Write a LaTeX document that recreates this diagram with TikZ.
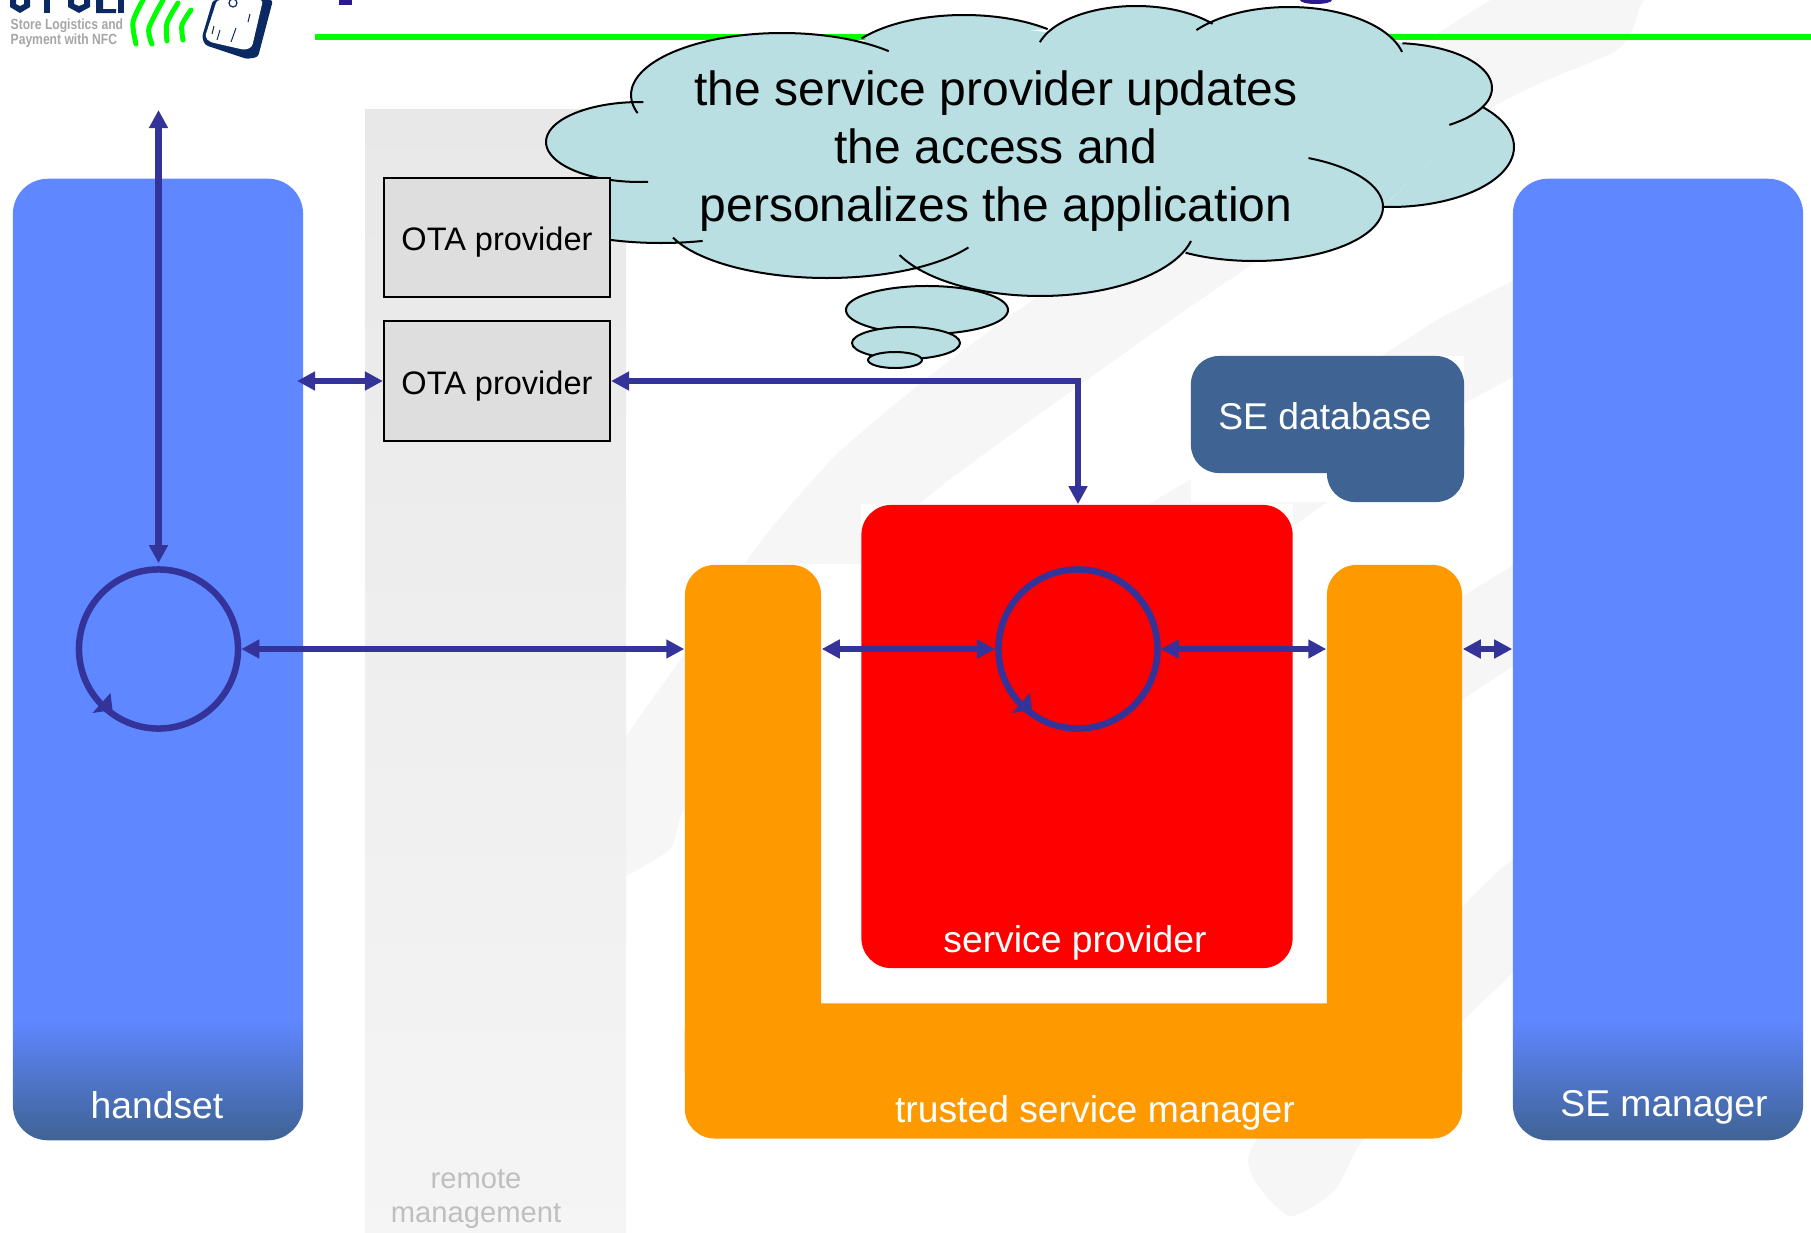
\documentclass[tikz,border=0pt]{standalone}
\usepackage{fontspec}
\setmainfont{Liberation Sans}
\newfontfamily\logofont[FakeStretch=0.82]{Liberation Sans}
\usetikzlibrary{arrows.meta,calc}

\definecolor{linkblue}{HTML}{333399}
\definecolor{panelblue}{HTML}{5F87FF}
\definecolor{dbblue}{HTML}{3F6393}
\definecolor{tsmorange}{HTML}{FF9900}
\definecolor{cloudteal}{HTML}{B9DFE3}
\definecolor{navy}{HTML}{0B2A63}
\definecolor{titleblue}{HTML}{2A1A8A}

\pgfdeclareverticalshading{panelshade}{100bp}{color(0bp)=(dbblue); color(25bp)=(dbblue); color(31.25bp)=(panelblue); color(100bp)=(panelblue)}

\tikzset{
	panel/.style={rounded corners=0.35cm, shading=panelshade, minimum width=2.9cm, minimum height=9.61cm},
	tsmpart/.style={rounded corners=0.3cm, fill=tsmorange},
	dbpart/.style={rounded corners=0.28cm, fill=dbblue},
	otabox/.style={draw=black, line width=0.02cm, fill=black!13, minimum width=2.26cm, minimum height=1.19cm, text height=7.54pt, text depth=0pt, font=\fontsize{9.25}{11}\selectfont},
	loopring/.style={circle, draw=linkblue, line width=0.065cm, minimum size=1.59cm},
	link/.style={draw=linkblue, line width=0.06cm, {Triangle[length=0.18cm,width=0.18cm]}-{Triangle[length=0.18cm,width=0.18cm]}},
	whitelabel/.style={text=white, font=\fontsize{10.6}{12}\selectfont},
	cloudline/.style={draw=black, line width=0.02cm},
	swoosh/.style={fill=black!3.5},
	greenarc/.style={draw=green, line width=0.05cm, line cap=round}
}

\newcommand{\cloudarc}[6]{plot[domain=#5:#6, samples=40, smooth, variable=\ang] ({#1+#2*cos(\ang)},{#3+#4*sin(\ang)})}
\newcommand{\cloudlobes}{
	\cloudarc{640}{94}{142}{40}{85}{272}
	\cloudarc{782}{151}{95}{62}{163}{315}
	\cloudarc{964}{125}{70}{55}{215}{312}
	\cloudarc{1136}{100}{56}{50}{196}{320}
	\cloudarc{1289}{116}{65}{58}{217}{347}
	\cloudarc{1392}{100}{88}{45}{276}{415}
	\cloudarc{1390}{124}{147}{60}{-41}{93}
	\cloudarc{1254}{129}{207}{54}{-65}{122}
	\cloudarc{1040}{155}{225}{71}{13}{155}
	\cloudarc{827}{165}{215}{63}{31}{159}
	\cloudarc{661}{128}{205}{38}{71}{170}
}

\begin{document}
\begin{tikzpicture}[x=0.01cm,y=-0.01cm]
	\useasboundingbox (0,0) rectangle (1811,1233);
	
	\fill[swoosh] plot[smooth cycle, tension=0.4] coordinates {(1517,-10) (1443,30) (1200,190) (1040,295) (936,371) (837,454) (758,545) (685,653) (600,780) (600,880) (627,875) (671,848) (685,807) (760,690) (860,565) (940,487) (1200,300) (1493,107) (1617,50) (1640,7) (1640,-10)};
	\fill[swoosh] (1530,272) -- (1440,318) -- (1190,480) -- (1145,506) -- (1295,525) -- (1463,404) -- (1530,368) -- cycle;
	\fill[swoosh] (1530,555) -- (1463,596) -- (1300,700) -- (1300,800) -- (1463,699) -- (1530,655) -- cycle;
	\fill[swoosh] plot[smooth cycle, tension=0.4] coordinates {(1530,852) (1463,906) (1263,1130) (1253,1177) (1290,1216) (1335,1190) (1363,1140) (1463,1021) (1530,950)};
	
	\fill[white] (685,564) rectangle (1462,1138);
	\fill[white] (861,504) rectangle (1293,968);
	\fill[white] (1191,356) rectangle (1464,502);
	
	\fill[green] (315,34) rectangle (1811,40);
	\fill[titleblue] (339,0) rectangle (352,4.5);
	\fill[titleblue] (1316,0) ellipse [x radius=0.16cm, y radius=0.04cm];
	
	\fill[navy] (10,0) -- (10,7) -- (20,13) -- (30,7) -- (30,0) -- (24,0) -- (24,4) -- (20,6) -- (16,4) -- (16,0) -- cycle;
	\fill[navy] (44,0) rectangle (50,13);
	\fill[navy] (68,0) -- (68,7) -- (79,13) -- (90,7) -- (90,0) -- (84,0) -- (84,4) -- (79,6) -- (74,4) -- (74,0) -- cycle;
	\fill[navy] (96,0) -- (96,13) -- (116,13) -- (116,9) -- (103,9) -- (103,0) -- cycle;
	\fill[navy] (118,0) rectangle (124,13);
	\node[text=black!35, anchor=north west, inner sep=0pt, align=left, font=\fontsize{4.2}{4.3}\logofont\bfseries] (logotext) at (10,18) {Store Logistics and\\Payment with NFC};
	\draw[greenarc] plot[smooth] coordinates {(136,44) (133,22) (143,0)};
	\draw[greenarc] plot[smooth] coordinates {(152,44) (149,28) (163,0)};
	\draw[greenarc] plot[smooth] coordinates {(167,41) (167,23) (178,3)};
	\draw[greenarc] plot[smooth] coordinates {(183,40) (182,25) (191,10)};
	\fill[navy, rounded corners=0.03cm] (213,0) -- (202,37) -- (205,45) -- (247,59) -- (258,57) -- (273,0) -- cycle;
	\fill[white, rounded corners=0.03cm] (217,0) -- (205,37) -- (210,42) -- (245,50) -- (252,47) -- (263,0) -- cycle;
	\draw[navy, line width=0.012cm] (233,3) circle [radius=0.04cm];
	\draw[navy, line width=0.01cm] (220,30) -- (217,40) (236,28) -- (231,42) (250,14) -- (248,22) (212,34) -- (214,26);
	
	\shade[top color=black!9, bottom color=black!4] (365,109) rectangle (626,1233);
	\node[text=black!25, align=center, font=\fontsize{8.3}{9.9}\selectfont] (remote) at (476,1199) {remote\\management};
	
	\fill[cloudteal] \cloudlobes;
	\fill[cloudteal] (637,102) -- (631,95) -- (782,40) -- (862,44) -- (866,38) -- (900,28) -- (964,22) -- (1045,32) -- (1136,12) -- (1205,25) -- (1289,12) -- (1402,43) -- (1483,109) -- (1383,207) -- (1254,255) -- (1186,252) -- (1040,290) -- (913,269) -- (827,272) -- (673,238) -- (612,238) -- (600,178) -- cycle;
	\draw[cloudline] \cloudlobes;
	\filldraw[fill=cloudteal, cloudline] (927,310) ellipse [x radius=0.81cm, y radius=0.24cm];
	\filldraw[fill=cloudteal, cloudline] (906,343) ellipse [x radius=0.54cm, y radius=0.16cm];
	\filldraw[fill=cloudteal, cloudline] (895,360) ellipse [x radius=0.27cm, y radius=0.08cm];
	\node[align=center, font=\fontsize{13.65}{16.4}\selectfont] (thought) at (996,151) {the service provider updates\\the access and\\personalizes the application};
	
	\node[panel] (handset) at (158,659.5) {};
	\node[panel] (semanager) at (1658,659.5) {};
	\node[whitelabel] (handsetlabel) at (157,1105) {handset};
	\node[whitelabel] (semanagerlabel) at (1664,1107) {SE manager};
	
	\node[otabox] (otaa) at (497,237.5) {OTA provider};
	\node[otabox] (otab) at (497,381) {OTA provider};
	
	\node[dbpart, minimum width=2.73cm, minimum height=1.17cm] (dbtop) at (1327.5,414.5) {};
	\node[dbpart, minimum width=1.37cm, minimum height=1.02cm] (dbfoot) at (1395.5,451) {};
	\node[whitelabel] (dblabel) at (1325,416) {SE database};
	
	\node[tsmpart, minimum width=1.36cm, minimum height=5.36cm] (tsmleft) at (753,833) {};
	\node[tsmpart, minimum width=1.35cm, minimum height=5.36cm] (tsmright) at (1394.5,833) {};
	\node[tsmpart, minimum width=7.77cm, minimum height=1.35cm] (tsmbottom) at (1073.5,1071) {};
	\node[whitelabel] (tsmlabel) at (1095,1113) {trusted service manager};
	
	\node[rounded corners=0.3cm, fill=red, minimum width=4.31cm, minimum height=4.63cm] (provider) at (1077,736.5) {};
	\node[whitelabel] (providerlabel) at (1075,943) {service provider};
	
	\node[loopring] (hsloop) at (158.5,649) {};
	\node[loopring] (sploop) at (1078,649) {};
	\foreach \ring in {hsloop,sploop}
		\fill[linkblue] ($(\ring)+(-48,44)$) -- ($(\ring)+(-66,64)$) -- ($(\ring)+(-46,61)$) -- cycle;
	
	\coordinate (hstop) at (158.5,110);
	\coordinate (hsota) at (297,381);
	\draw[link] (hstop) -- ($(hsloop.north)+(0,-3)$);
	\draw[link] (hsota) -- (otab.west);
	\draw[link] (otab.east) -| (sploop.north |- provider.north);
	\draw[link] (hsloop.east) -- (hsloop.east -| tsmleft.west);
	\draw[link] (sploop.west -| tsmleft.east) -- (sploop.west);
	\draw[link] (sploop.east) -- (sploop.east -| tsmright.west);
	\draw[link] (sploop.east -| tsmright.east) -- (sploop.east -| semanager.west);
	
\end{tikzpicture}
\end{document}
